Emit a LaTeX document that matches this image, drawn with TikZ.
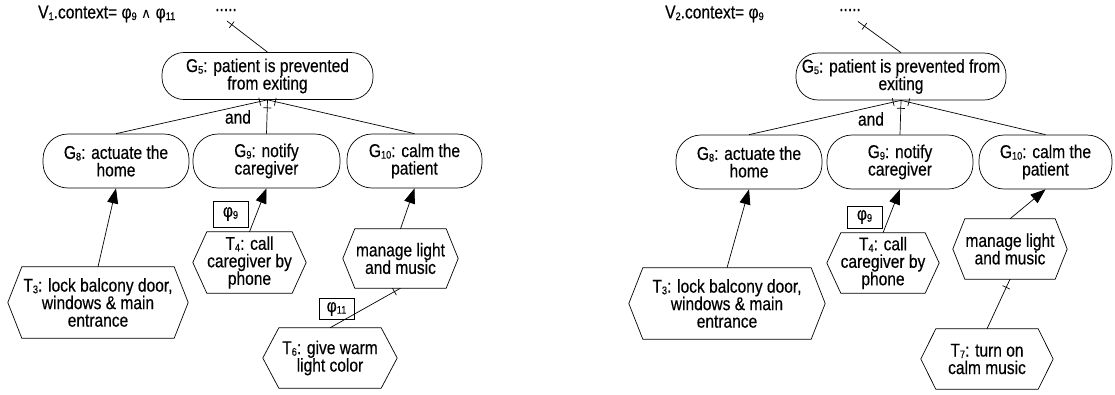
\documentclass[tikz,border=0pt]{standalone}
\usepackage{fontspec}
\setmainfont{Liberation Sans}[FakeStretch=0.84,FakeBold=0.4]
\newfontfamily\symfont{DejaVu Sans}
\usetikzlibrary{arrows.meta,decorations.markings}
\newcommand\mysub[1]{\raisebox{-1.6pt}{\fontsize{11}{10}\selectfont #1}}
\newcommand\andsym{{\symfont\fontsize{14}{14}\selectfont ∧}}
\tikzset{
  base/.style={font=\fontsize{18.5}{17.5}\selectfont, align=center, inner sep=0pt},
  goal/.style={base, draw, line width=0.7pt, rounded corners=25pt, minimum height=54pt},
  task/.style={base, minimum height=60pt},
  ctxbox/.style={base, draw, line width=0.7pt, minimum width=35pt, minimum height=23pt},
  lbl/.style={base},
  dots/.style={base, text height=3pt, text depth=0pt},
  conn/.style={line width=0.7pt},
  arr/.style={conn, -{Triangle[length=15pt,width=11pt]}},
  tick/.style={conn, postaction={decorate},
    decoration={markings, mark=at position #1 with {\draw[line width=0.7pt] (0,-4pt) -- (0,4pt);}}},
  tick/.default=8pt,
}
\begin{document}
\begin{tikzpicture}[x=1pt,y=-1pt]
\useasboundingbox (0,0) rectangle (1115,394);

% ---------------- left diagram ----------------
\node[lbl, anchor=west] (V1) at (38,14) {V\mysub{1}.context= φ\mysub{9} \andsym{} φ\mysub{11}};
\node[dots, anchor=base] (D1) at (226,11) {.....};
\coordinate (D1e) at (227,21);

\node[goal, rounded corners=22pt, minimum width=211pt, minimum height=47pt] (G5) at (267.5,76) {G\mysub{5}: patient is prevented\\from exiting};
\node[goal, minimum width=146pt] (G8) at (116,161) {G\mysub{8}: actuate the\\home};
\node[goal, minimum width=147pt] (G9) at (266.5,161) {G\mysub{9}: notify\\caregiver};
\node[goal, minimum width=135pt] (G10) at (414.5,161) {G\mysub{10}: calm the\\patient};
\node[lbl] (and1) at (238,117) {and};

\node[task, minimum width=180pt, minimum height=71pt] (T3) at (98,302.5) {T\mysub{3}: lock balcony door,\\windows \& main\\entrance};
\node[task, minimum width=113pt, minimum height=61pt] (T4) at (249.5,262.5) {T\mysub{4}: call\\caregiver by\\phone};
\node[task, minimum width=115pt, minimum height=59pt] (M1) at (400.5,258.5) {manage light\\and music};
\node[task, minimum width=134pt] (T6) at (330,358) {T\mysub{6}: give warm\\light color};
\node[ctxbox, minimum height=26pt] (C9a) at (230.5,214) {φ\mysub{9}};
\node[ctxbox, minimum height=21pt] (C11) at (336.5,309) {φ\mysub{11}};

\draw[tick=6pt] (D1e) -- (G5.north);
\draw[tick] (G5.south) -- (G8.north);
\draw[tick] (G5.south) -- (G9.north);
\draw[tick] (G5.south) -- (G10.north);
\draw[arr] (T3.north) -- (G8.south);
\draw[arr] (T4.north) -- (G9.south);
\draw[arr] (M1.north) -- (G10.south);
\draw[tick=7pt] (M1.south) -- (T6.north);

% ---------------- right diagram ----------------
\node[lbl, anchor=west] (V2) at (665,14) {V\mysub{2}.context= φ\mysub{9}};
\node[dots, anchor=base] (D2) at (850,11) {.....};
\coordinate (D2e) at (858,21.5);

\node[goal, rounded corners=22pt, minimum width=210pt, minimum height=47pt] (H5) at (901,76.5) {G\mysub{5}: patient is prevented from\\exiting};
\node[goal, minimum width=146pt] (H8) at (749,162) {G\mysub{8}: actuate the\\home};
\node[goal, minimum width=146pt] (H9) at (900,162) {G\mysub{9}: notify\\caregiver};
\node[goal, minimum width=133pt] (H10) at (1045.5,162) {G\mysub{10}: calm the\\patient};
\node[lbl] (and2) at (871,119) {and};

\node[task, minimum width=196pt, minimum height=71pt] (U3) at (727,303.5) {T\mysub{3}: lock balcony door,\\windows \& main\\entrance};
\node[task, minimum width=112pt] (U4) at (883,263) {T\mysub{4}: call\\caregiver by\\phone};
\node[task, minimum width=114pt] (M2) at (1010,249) {manage light\\and music};
\node[task, minimum width=132pt] (U7) at (987,359) {T\mysub{7}: turn on\\calm music};
\node[ctxbox, minimum height=22pt] (C9b) at (864.5,217) {φ\mysub{9}};

\draw[tick=8pt] (D2e) -- (H5.north);
\draw[tick] (H5.south) -- (H8.north);
\draw[tick] (H5.south) -- (H9.north);
\draw[tick] (H5.south) -- (H10.north);
\draw[arr] (U3.north) -- (H8.south);
\draw[arr] (U4.north) -- (H9.south);
\draw[arr] (M2.north) -- (H10.south);
\draw[tick=9pt] (M2.south) -- (U7.north);

% hexagon outlines for task nodes
\foreach \n/\i in {T3/14,T4/14,M1/12,T6/16,U3/14,U4/14,M2/12,U7/15}{
  \draw[conn] ([xshift=\i pt]\n.north west) -- ([xshift=-\i pt]\n.north east) -- (\n.east)
    -- ([xshift=-\i pt]\n.south east) -- ([xshift=\i pt]\n.south west) -- (\n.west) -- cycle;
}
\end{tikzpicture}
\end{document}
